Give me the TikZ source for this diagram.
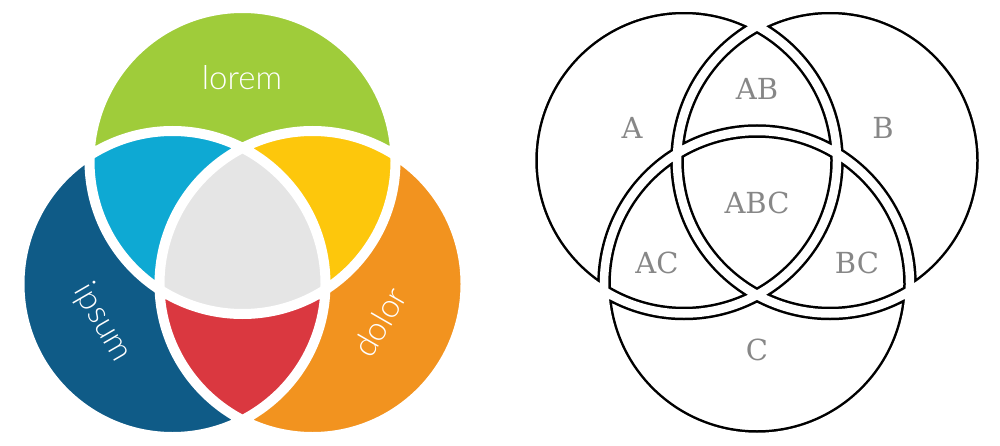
\documentclass[tikz,border=0pt]{standalone}
\usepackage{fontspec}
\usepackage{tkz-euclide}
\newfontfamily\labelfont{Lato Light}
\newfontfamily\setfont{DejaVu Serif}
\definecolor{LoremClr}{RGB}{159,204,58}
\definecolor{IpsumClr}{RGB}{15,91,135}
\definecolor{DolorClr}{RGB}{242,147,31}
\definecolor{LoIpClr}{RGB}{14,169,211}
\definecolor{LoDoClr}{RGB}{253,199,12}
\definecolor{IpDoClr}{RGB}{218,56,64}
\definecolor{MidClr}{RGB}{229,229,229}
\definecolor{SetTxtClr}{RGB}{135,135,135}

\begin{document}
\begin{tikzpicture}[x=1pt,y=1pt]
\useasboundingbox (0,0) rectangle (1000,445);
\def\rr{153}

\tkzDefPoints{242.5/284/T,172.5/161/L,312.5/161/R}
\tkzDefPoints{684/284.5/A,830/284.5/B,757/161/C}

% coloured diagram
\fill[LoremClr] (T) circle (\rr);
\fill[IpsumClr] (L) circle (\rr);
\fill[DolorClr] (R) circle (\rr);
\begin{scope}
\clip (T) circle (\rr);
\fill[LoIpClr] (L) circle (\rr);
\fill[LoDoClr] (R) circle (\rr);
\end{scope}
\begin{scope}
\clip (L) circle (\rr);
\fill[IpDoClr] (R) circle (\rr);
\clip (T) circle (\rr);
\fill[MidClr] (R) circle (\rr);
\end{scope}
\draw[white,line width=10pt] (T) circle (\rr) (L) circle (\rr) (R) circle (\rr);

\node[white,font=\labelfont\fontsize{33}{33}\selectfont] (lorem) at (242,367) {lorem};
\node[white,font=\labelfont\fontsize{33}{33}\selectfont,rotate=-60] (ipsum) at (102,122) {ipsum};
\node[white,font=\labelfont\fontsize{33}{33}\selectfont,rotate=60] (dolor) at (380,123) {dolor};

% outlined diagram
\begin{scope}
\clip (A) circle (\rr) (B) circle (\rr) (C) circle (\rr);
\draw[black,line width=13.5pt] (A) circle (\rr) (B) circle (\rr) (C) circle (\rr);
\end{scope}
\draw[white,line width=8.5pt] (A) circle (\rr) (B) circle (\rr) (C) circle (\rr);

\tikzset{settxt/.style={SetTxtClr,font=\setfont\fontsize{29}{29}\selectfont}}
\node[settxt] (a) at (632,317) {A};
\node[settxt] (ab) at (757,356) {AB};
\node[settxt] (b) at (883,317) {B};
\node[settxt] (abc) at (757,242) {ABC};
\node[settxt] (ac) at (657,182) {AC};
\node[settxt] (bc) at (857,182) {BC};
\node[settxt] (c) at (757,95) {C};

\end{tikzpicture}
\end{document}
